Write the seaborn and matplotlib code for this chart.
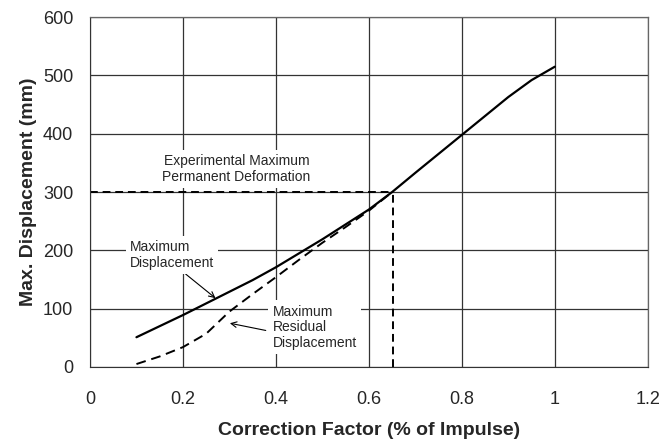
import matplotlib
matplotlib.use("Agg")
import matplotlib.pyplot as plt
import seaborn as sns
import pandas as pd

# 데이터
factor_max = [0.1, 0.2, 0.3, 0.35, 0.4, 0.45, 0.5, 0.6, 0.65, 0.7, 0.8, 0.9, 0.95, 1.0]
disp_max = [51, 89, 129, 149, 171, 195, 219, 270, 300, 333, 398, 463, 492, 515]

factor_res = [0.1, 0.15, 0.2, 0.25, 0.3, 0.35, 0.4, 0.45, 0.5, 0.55, 0.6, 0.65]
disp_res = [5, 18, 34, 57, 95, 125, 154, 184, 213, 240, 268, 300]

exp_factor = 0.652
exp_disp = 300

df_max = pd.DataFrame({"x": factor_max, "y": disp_max})
df_res = pd.DataFrame({"x": factor_res, "y": disp_res})

sns.set_style("white")
plt.rcParams["font.family"] = ["Liberation Sans", "DejaVu Sans"]

fig = plt.figure(figsize=(6.63, 4.4), dpi=100)
ax = fig.add_axes([0.1357, 0.166, 0.8413, 0.795])

sns.lineplot(data=df_max, x="x", y="y", color="black", lw=1.6, ax=ax)
sns.lineplot(data=df_res, x="x", y="y", color="black", lw=1.4, ax=ax)
ax.lines[-1].set_dashes([5, 3])

# 실험값 점선
ax.plot([0, exp_factor], [exp_disp, exp_disp], color="black", lw=1.4, dashes=[4, 2.5])
ax.plot([exp_factor, exp_factor], [0, exp_disp], color="black", lw=1.4, dashes=[4, 2.5])

ax.set_xlim(0, 1.2)
ax.set_ylim(0, 600)
ax.set_xticks([0, 0.2, 0.4, 0.6, 0.8, 1.0, 1.2])
ax.set_xticklabels(["0", "0.2", "0.4", "0.6", "0.8", "1", "1.2"])
ax.set_yticks(range(0, 601, 100))
ax.grid(True, color="#333333", lw=0.9)
ax.set_axisbelow(True)
for s in ["top", "right"]:
    ax.spines[s].set_color("#666666")
    ax.spines[s].set_linewidth(0.9)
for s in ["left", "bottom"]:
    ax.spines[s].set_color("#333333")
ax.tick_params(axis="both", direction="out", length=5, width=0.9, color="#333333",
               labelsize=13, pad=7)
ax.tick_params(axis="x", pad=12.5)

ax.set_xlabel("Correction Factor (% of Impulse)", fontsize=14, fontweight="bold", labelpad=10)
ax.set_ylabel("Max. Displacement (mm)", fontsize=14, fontweight="bold", labelpad=4)

bbox = dict(facecolor="white", edgecolor="none", pad=3)
ax.text(0.315, 340, "Experimental Maximum\nPermanent Deformation", ha="center", va="center",
        fontsize=10, bbox=bbox, linespacing=1.15)
ax.annotate("Maximum\nDisplacement", xy=(0.27, 118), xytext=(0.086, 192),
            ha="left", va="center", fontsize=10, bbox=bbox, linespacing=1.15,
            arrowprops=dict(arrowstyle="->", color="black", lw=0.8, shrinkA=0, shrinkB=0,
                            relpos=(0.6, 0.0)))
ax.annotate("Maximum\nResidual\nDisplacement", xy=(0.301, 75), xytext=(0.393, 68),
            ha="left", va="center", fontsize=10, bbox=bbox, linespacing=1.15,
            arrowprops=dict(arrowstyle="->", color="black", lw=0.8, shrinkA=2, shrinkB=0,
                            relpos=(0.0, 0.4)))

plt.savefig("out.png", dpi=100)
